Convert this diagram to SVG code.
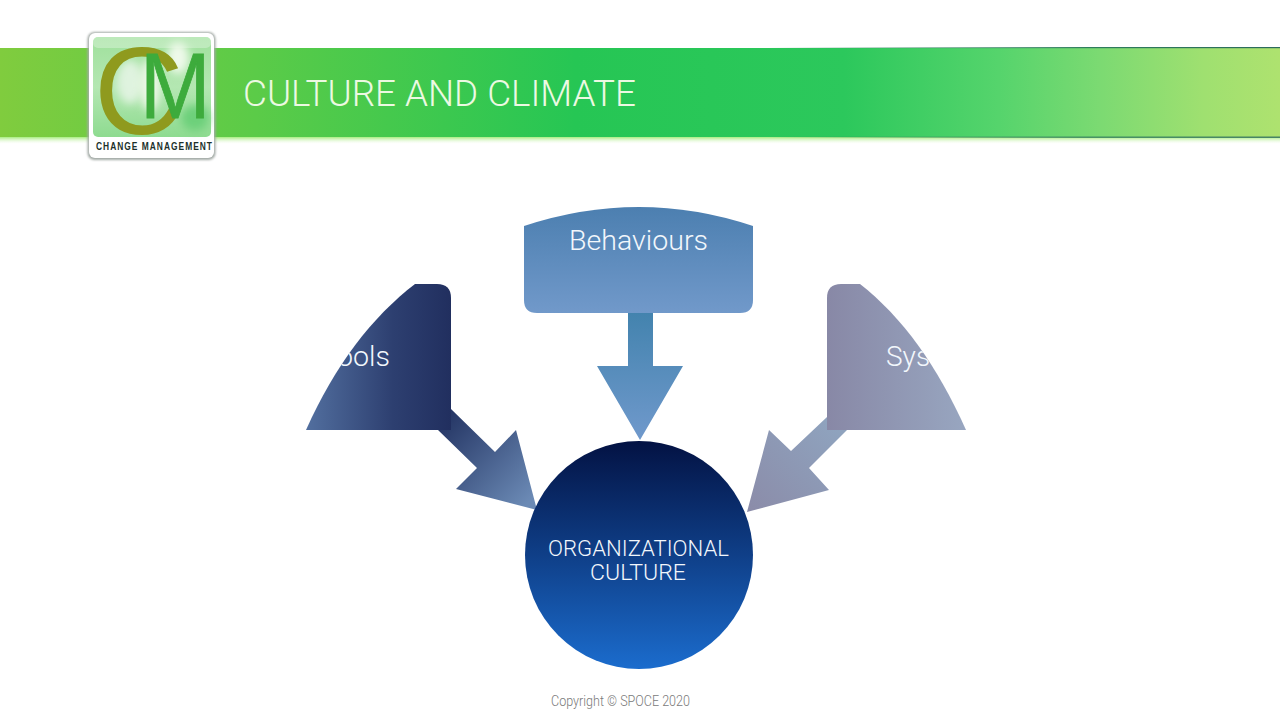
<svg xmlns="http://www.w3.org/2000/svg" width="1280" height="720" viewBox="0 0 1280 720">
<style>
.t{font-family:Roboto,"Liberation Sans",sans-serif;font-weight:300;fill:#f2f7fc}
</style>
<defs>
<linearGradient id="bar" x1="0" x2="1" y1="0" y2="0">
<stop offset="0" stop-color="#80cc3e"/><stop offset="0.2" stop-color="#5bcb48"/><stop offset="0.45" stop-color="#26c654"/><stop offset="0.66" stop-color="#2cc85c"/><stop offset="0.78" stop-color="#55d46c"/><stop offset="0.86" stop-color="#7cda72"/><stop offset="0.94" stop-color="#9fe070"/><stop offset="1" stop-color="#aee26f"/>
</linearGradient>
<linearGradient id="edge" x1="0" x2="1" y1="0" y2="0">
<stop offset="0.6" stop-color="#2f7d5c" stop-opacity="0"/><stop offset="0.85" stop-color="#2f7d5c"/><stop offset="1" stop-color="#2d6a5c"/>
</linearGradient>
<linearGradient id="glow" x1="0" x2="0" y1="0" y2="1">
<stop offset="0" stop-color="#a8ec80"/><stop offset="1" stop-color="#f2fdea" stop-opacity="0"/>
</linearGradient>
<linearGradient id="panel" x1="0" x2="0" y1="0" y2="1">
<stop offset="0" stop-color="#9fe09c"/><stop offset="0.5" stop-color="#b4e7b2"/><stop offset="1" stop-color="#8edb90"/>
</linearGradient>
<linearGradient id="tools" gradientUnits="userSpaceOnUse" x1="306" x2="451" y1="0" y2="0">
<stop offset="0" stop-color="#526f9f"/><stop offset="0.6" stop-color="#2d3f70"/><stop offset="1" stop-color="#212f5f"/>
</linearGradient>
<linearGradient id="toolsArrow" gradientUnits="userSpaceOnUse" x1="445" y1="420" x2="530" y2="500">
<stop offset="0" stop-color="#263766"/><stop offset="1" stop-color="#6b8ab5"/>
</linearGradient>
<linearGradient id="beh" x1="0" x2="0" y1="0" y2="1">
<stop offset="0" stop-color="#4c7fb0"/><stop offset="1" stop-color="#7199ca"/>
</linearGradient>
<linearGradient id="behArrow" x1="0" x2="0" y1="0" y2="1">
<stop offset="0" stop-color="#4383ae"/><stop offset="1" stop-color="#7099cc"/>
</linearGradient>
<linearGradient id="sys" gradientUnits="userSpaceOnUse" x1="827" x2="966" y1="0" y2="0">
<stop offset="0" stop-color="#8888a6"/><stop offset="1" stop-color="#98a6c0"/>
</linearGradient>
<linearGradient id="sysArrow" gradientUnits="userSpaceOnUse" x1="835" y1="425" x2="750" y2="510">
<stop offset="0" stop-color="#8fa3be"/><stop offset="1" stop-color="#8b8ca9"/>
</linearGradient>
<linearGradient id="org" x1="0" x2="0" y1="0" y2="1">
<stop offset="0" stop-color="#031243"/><stop offset="1" stop-color="#1b6ccd"/>
</linearGradient>
<clipPath id="clipTools"><path d="M306 430C335 365 372 317 415 284H437Q451 284 451 298V430Z"/></clipPath>
<clipPath id="clipSys"><path d="M966 430C937 365 902 317 860 284H841Q827 284 827 298V430Z"/></clipPath>
<filter id="blur" x="-40%" y="-40%" width="180%" height="180%"><feGaussianBlur stdDeviation="4"/></filter>
<filter id="soft" x="-10%" y="-10%" width="120%" height="120%"><feGaussianBlur stdDeviation="1"/></filter>
</defs>

<g id="banner">
<rect x="0" y="137" width="1280" height="7" fill="url(#glow)"/>
<rect x="0" y="48" width="1280" height="89" fill="url(#bar)"/>
<rect x="0" y="47" width="1280" height="1.2" fill="url(#edge)"/>
<rect x="0" y="136.600" width="1280" height="1.2" fill="url(#edge)"/>
<text id="title" class="t" x="243" y="106" font-size="36.500" textLength="393" lengthAdjust="spacingAndGlyphs" style="fill:#ecf9e2">CULTURE AND CLIMATE</text>
</g>

<g id="logo">
<rect x="87.500" y="32" width="128" height="128" rx="7" fill="#a3aaa6" filter="url(#soft)"/>
<rect x="89" y="33" width="125" height="125" rx="6" fill="#fff"/>
<rect x="93" y="37" width="118" height="100" rx="5" fill="url(#panel)"/>
<rect x="93" y="37" width="118" height="11" rx="5" fill="#fff" opacity=".3"/>
<ellipse cx="130" cy="82" rx="13" ry="22" fill="#dff3df" filter="url(#blur)"/>
<ellipse cx="150" cy="85" rx="10" ry="26" fill="#eef8e8" filter="url(#blur)"/>
<ellipse cx="178" cy="58" rx="11" ry="16" fill="#eef9ea" filter="url(#blur)"/>
<ellipse cx="195" cy="118" rx="14" ry="13" fill="#6dd07a" filter="url(#blur)"/>
<text x="94" y="134" font-family="'Liberation Sans',sans-serif" font-size="124" fill="#8f9a1e">C</text>
<text transform="translate(140 118) scale(.92 1)" font-family="'Liberation Sans',sans-serif" font-size="92" fill="#3dab3c" stroke="#3dab3c" stroke-width=".8">M</text>
<text transform="translate(96 150) scale(.8 1)" font-family="'Liberation Sans',sans-serif" font-weight="700" font-size="10.500" textLength="145" lengthAdjust="spacing" fill="#20302a">CHANGE MANAGEMENT</text>
</g>

<g id="connectors">
<polygon fill="url(#toolsArrow)" points="451,409 495,452 516,430 537,510 456,489 477,468 438,430"/>
<polygon fill="url(#behArrow)" points="628,313 653,313 653,366 683,366 640,440 597,366 628,366"/>
<polygon fill="url(#sysArrow)" points="827,417 847,430 809,468 829,490 747,512 769,430 791,451"/>
</g>

<g id="node-tools">
<path fill="url(#tools)" d="M306 430C335 365 372 317 415 284H437Q451 284 451 298V430Z"/>
<text class="t" x="337" y="366" font-size="28" textLength="53" lengthAdjust="spacingAndGlyphs" clip-path="url(#clipTools)">ools</text>
</g>

<g id="node-behaviours">
<path fill="url(#beh)" d="M524 226Q639 188 753 226V300Q753 313 740 313H537Q524 313 524 300Z"/>
<text class="t" x="569" y="250" font-size="28" textLength="139" lengthAdjust="spacingAndGlyphs">Behaviours</text>
</g>

<g id="node-systems">
<path fill="url(#sys)" d="M966 430C937 365 902 317 860 284H841Q827 284 827 298V430Z"/>
<text class="t" x="886" y="366" font-size="28" clip-path="url(#clipSys)">Sys</text>
</g>

<g id="node-org">
<circle cx="639" cy="555" r="114" fill="url(#org)"/>
<text class="t" x="548" y="556" font-size="22" textLength="181" lengthAdjust="spacingAndGlyphs">ORGANIZATIONAL</text>
<text class="t" x="590" y="580" font-size="22" textLength="96" lengthAdjust="spacingAndGlyphs">CULTURE</text>
</g>

<text id="copyright" x="551" y="706" font-family="Roboto,'Liberation Sans',sans-serif" font-weight="300" font-size="14.500" textLength="139" lengthAdjust="spacingAndGlyphs" fill="#7a7a7a">Copyright © SPOCE 2020</text>
</svg>
